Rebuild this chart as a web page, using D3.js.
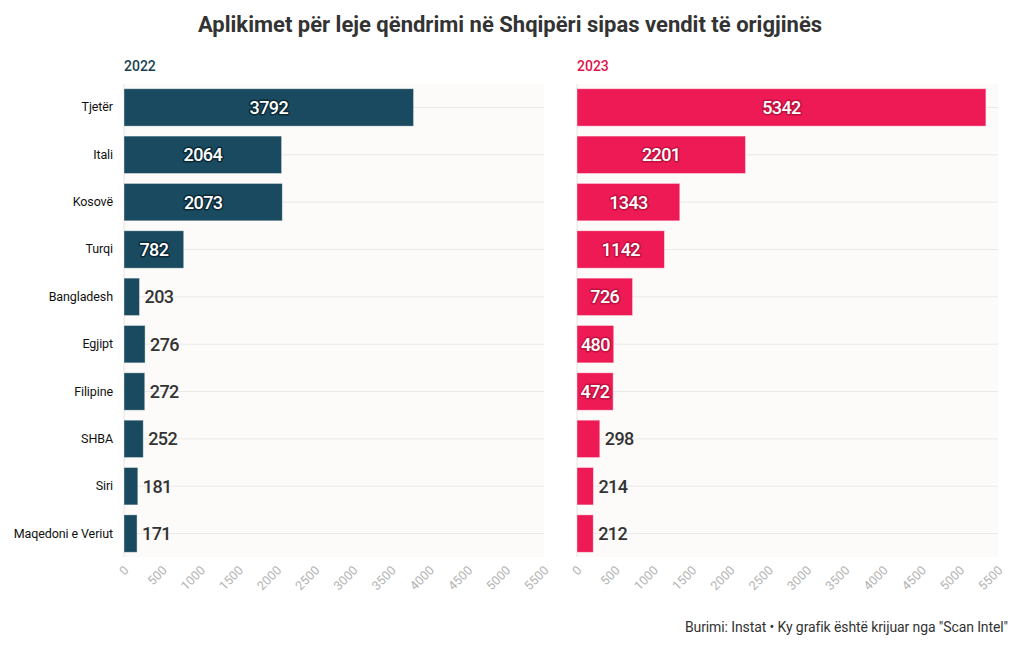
<!DOCTYPE html>
<html>
<head>
<meta charset="utf-8">
<script src="https://cdn.jsdelivr.net/npm/d3@7"></script>
<style>
  html, body { margin: 0; padding: 0; background: #ffffff; }
  svg { display: block; }
  text { font-family: "Roboto", "Liberation Sans", sans-serif; }
</style>
</head>
<body>
<svg id="chart" width="1020" height="650"></svg>
<script>
const categories = ["Tjetër", "Itali", "Kosovë", "Turqi", "Bangladesh", "Egjipt", "Filipine", "SHBA", "Siri", "Maqedoni e Veriut"];
const values2022 = [3792, 2064, 2073, 782, 203, 276, 272, 252, 181, 171];
const values2023 = [5342, 2201, 1343, 1142, 726, 480, 472, 298, 214, 212];
const xTicks = [0, 500, 1000, 1500, 2000, 2500, 3000, 3500, 4000, 4500, 5000, 5500];
const panelTitles = ["2022", "2023"];
const titleText = "Aplikimet për leje qëndrimi në Shqipëri sipas vendit të origjinës";
const sourceText = "Burimi: Instat • Ky grafik është krijuar nga \"Scan Intel\"";

(function () {
const svg = d3.select("#chart");

svg.append("text")
  .attr("x", 510).attr("y", 32)
  .attr("text-anchor", "middle")
  .attr("font-size", 22).attr("font-weight", "bold")
  .attr("letter-spacing", 0)
  .attr("fill", "#333333")
  .text(titleText);

svg.append("text")
  .attr("x", 1008).attr("y", 632)
  .attr("text-anchor", "end")
  .attr("font-size", 14)
  .attr("letter-spacing", -0.1)
  .attr("fill", "#333333")
  .text(sourceText);

const plotTop = 84, plotBottom = 557;
const y = d3.scaleBand().domain(categories).range([plotTop, plotBottom]).paddingInner(0.21).paddingOuter(0.1);

const panels = [
  { left: 124, right: 544, values: values2022, title: panelTitles[0], color: "#1a4a5f", titleColor: "#173f52", halo: "#08202c" },
  { left: 577, right: 998, values: values2023, title: panelTitles[1], color: "#ee1a55", titleColor: "#e0144c", halo: "#b50e3b" }
];

panels.forEach((p, pi) => {
  const x = d3.scaleLinear().domain([0, 5500]).range([p.left, p.right]);
  const g = svg.append("g");

  g.append("rect")
    .attr("x", p.left).attr("y", plotTop)
    .attr("width", p.right - p.left).attr("height", plotBottom - plotTop)
    .attr("fill", "#fcfbfa");

  g.selectAll("line.grid").data(categories).enter().append("line")
    .attr("x1", p.left).attr("x2", p.right)
    .attr("y1", d => y(d) + y.bandwidth() / 2)
    .attr("y2", d => y(d) + y.bandwidth() / 2)
    .attr("stroke", "#ebe9e6").attr("stroke-width", 1);

  g.append("line")
    .attr("x1", p.left).attr("x2", p.left)
    .attr("y1", plotTop).attr("y2", plotBottom)
    .attr("stroke", "#e6e4e1");

  g.append("text")
    .attr("x", p.left).attr("y", 71)
    .attr("font-size", 14).attr("font-weight", 500)
    .attr("fill", p.titleColor)
    .text(p.title);

  g.selectAll("rect.bar").data(categories).enter().append("rect")
    .attr("x", x(0))
    .attr("y", d => y(d))
    .attr("width", (d, i) => x(p.values[i]) - x(0))
    .attr("height", y.bandwidth())
    .attr("fill", p.color)
    .attr("stroke", "#ffffff").attr("stroke-opacity", 0.5).attr("stroke-width", 0.8);

  categories.forEach((d, i) => {
    const v = p.values[i];
    const w = x(v) - x(0);
    const cy = y(d) + y.bandwidth() / 2;
    if (w >= 30) {
      g.append("text")
        .attr("x", x(0) + w / 2).attr("y", cy).attr("dy", "0.36em")
        .attr("text-anchor", "middle")
        .attr("font-size", 18).attr("font-weight", 500)
        .attr("letter-spacing", -0.6)
        .attr("fill", "#ffffff")
        .attr("stroke", p.halo).attr("stroke-width", 3).attr("stroke-opacity", 0.8).attr("stroke-linejoin", "round")
        .attr("paint-order", "stroke")
        .text(v);
    } else {
      g.append("text")
        .attr("x", x(v) + 5).attr("y", cy).attr("dy", "0.36em")
        .attr("font-size", 18).attr("font-weight", 500)
        .attr("letter-spacing", -0.6)
        .attr("fill", "#333333")
        .text(v);
    }
  });

  const ax = g.append("g").attr("transform", `translate(0,${plotBottom})`)
    .call(d3.axisBottom(x).tickValues(xTicks).tickFormat(d3.format("d")).tickSize(0).tickPadding(0));
  ax.select(".domain").remove();
  ax.selectAll("text")
    .attr("fill", "#b3b3b3")
    .attr("font-size", 12.5)
    .attr("text-anchor", "end")
    .attr("dy", null)
    .attr("transform", "translate(5,14) rotate(-45)");

  const ay = g.append("g").attr("transform", `translate(${p.left},0)`)
    .call(d3.axisLeft(y).tickSize(0).tickPadding(11));
  ay.select(".domain").remove();
  if (pi === 1) ay.selectAll("text").remove();
  ay.selectAll("text").attr("fill", "#111111").attr("font-size", 12.5).attr("letter-spacing", -0.1);
});
})();
</script>
</body>
</html>
